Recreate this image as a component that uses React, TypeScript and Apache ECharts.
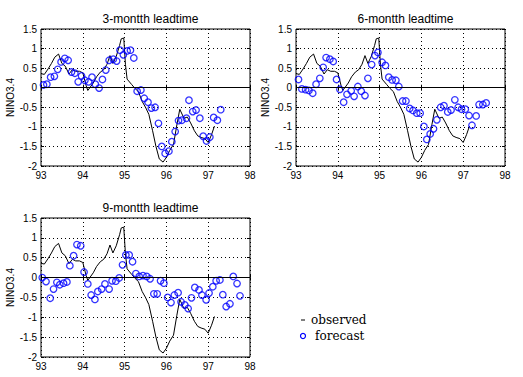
import React, { useEffect, useRef } from "react";
import * as echarts from "echarts";

const titles = ["3-montth leadtime", "6-montth leadtime", "9-montth leadtime"];
const xTicks = [93, 94, 95, 96, 97, 98];
const yLabelName = "NINO3.4";
const legendLabels = ["observed", "forecast"];

const obsT = [93.0, 93.08, 93.17, 93.25, 93.33, 93.42, 93.5, 93.58, 93.67, 93.75, 93.83, 93.92, 94.0, 94.08, 94.12, 94.25, 94.33, 94.42, 94.5, 94.58, 94.65, 94.72, 94.8, 94.88, 94.92, 94.98, 95.02, 95.06, 95.17, 95.25, 95.33, 95.42, 95.5, 95.58, 95.67, 95.75, 95.83, 95.92, 96.0, 96.08, 96.17, 96.25, 96.32, 96.42, 96.5, 96.58, 96.67, 96.75, 96.83, 96.92, 97.0, 97.08, 97.15];
const obsV = [0.36, 0.34, 0.48, 0.62, 0.78, 0.86, 0.62, 0.55, 0.35, 0.46, 0.42, 0.42, 0.38, 0.05, -0.07, 0.12, 0.28, 0.4, 0.46, 0.6, 0.82, 0.62, 0.8, 1.08, 1.25, 1.27, 0.6, 0.22, 0.08, -0.02, -0.1, -0.35, -0.5, -0.68, -1.1, -1.5, -1.82, -1.9, -1.78, -1.6, -1.45, -0.95, -0.55, -0.78, -0.75, -0.9, -1.1, -1.23, -1.27, -1.3, -1.4, -1.2, -0.98];

const f3T = [93.06, 93.14, 93.23, 93.32, 93.4, 93.48, 93.57, 93.65, 93.73, 93.81, 93.89, 93.97, 94.05, 94.14, 94.22, 94.3, 94.39, 94.47, 94.55, 94.63, 94.73, 94.81, 94.89, 94.97, 95.06, 95.14, 95.22, 95.3, 95.39, 95.47, 95.56, 95.64, 95.73, 95.81, 95.89, 95.97, 96.06, 96.13, 96.21, 96.29, 96.37, 96.48, 96.54, 96.63, 96.71, 96.8, 96.88, 96.96, 97.04, 97.13, 97.22, 97.3];
const f3V = [0.07, 0.09, 0.27, 0.29, 0.47, 0.66, 0.75, 0.7, 0.4, 0.37, 0.15, 0.3, 0.19, 0.15, 0.27, 0.09, -0.01, 0.21, 0.45, 0.7, 0.73, 0.68, 0.96, 0.84, 0.94, 0.96, 0.76, -0.09, -0.06, -0.27, -0.37, -0.52, -0.5, -0.91, -1.5, -1.68, -1.62, -1.38, -1.12, -0.84, -0.83, -0.78, -0.32, -0.61, -0.57, -0.78, -1.24, -1.36, -1.26, -0.76, -0.83, -0.56];

const f6T = [93.06, 93.14, 93.23, 93.31, 93.4, 93.48, 93.57, 93.65, 93.72, 93.81, 93.89, 93.97, 94.05, 94.14, 94.22, 94.32, 94.39, 94.48, 94.56, 94.65, 94.72, 94.81, 94.89, 94.96, 95.06, 95.14, 95.22, 95.3, 95.39, 95.46, 95.55, 95.63, 95.72, 95.8, 95.89, 95.97, 96.06, 96.13, 96.21, 96.29, 96.37, 96.46, 96.54, 96.63, 96.71, 96.8, 96.88, 96.96, 97.05, 97.14, 97.21, 97.31, 97.38, 97.47, 97.55];
const f6V = [0.21, -0.03, -0.05, -0.07, -0.14, 0.09, 0.24, 0.52, 0.77, 0.73, 0.67, 0.21, -0.04, -0.37, -0.17, -0.08, -0.22, 0.03, -0.09, -0.2, 0.24, 0.59, 0.82, 0.9, 0.65, 0.57, 0.27, 0.2, 0.19, 0.03, -0.34, -0.34, -0.53, -0.58, -0.65, -0.65, -0.99, -1.32, -1.18, -1.05, -0.82, -0.5, -0.46, -0.62, -0.57, -0.31, -0.5, -0.55, -0.55, -0.71, -0.96, -0.72, -0.43, -0.43, -0.39];

const f9T = [93.03, 93.12, 93.22, 93.3, 93.38, 93.45, 93.54, 93.62, 93.69, 93.78, 93.86, 93.95, 94.03, 94.12, 94.2, 94.29, 94.36, 94.45, 94.53, 94.63, 94.7, 94.79, 94.87, 94.95, 95.03, 95.11, 95.19, 95.27, 95.35, 95.44, 95.53, 95.61, 95.7, 95.78, 95.86, 95.94, 96.03, 96.11, 96.19, 96.28, 96.35, 96.44, 96.52, 96.6, 96.68, 96.78, 96.85, 96.95, 97.02, 97.11, 97.19, 97.28, 97.35, 97.43, 97.52, 97.6, 97.69, 97.76];
const f9V = [0.0, -0.1, -0.52, -0.29, -0.12, -0.18, -0.14, -0.11, 0.3, 0.55, 0.83, 0.8, 0.14, -0.16, -0.44, -0.55, -0.35, -0.29, -0.16, -0.29, -0.08, -0.09, -0.01, 0.32, 0.57, 0.57, 0.4, 0.1, 0.03, 0.05, 0.03, -0.03, -0.41, -0.41, -0.08, -0.14, -0.5, -0.63, -0.44, -0.38, -0.61, -0.69, -0.78, -0.51, -0.25, -0.31, -0.44, -0.56, -0.39, -0.23, -0.08, -0.06, -0.43, -0.73, -0.66, 0.03, -0.15, -0.46];

const pair = (t: number[], v: number[]) => t.map((x, i) => [x, v[i]]);

export default function App() {
  const ref = useRef<HTMLDivElement>(null);
  useEffect(() => {
    if (!ref.current) return;
    const chart = echarts.init(ref.current, null, { renderer: "svg" });
    const grids = [
      { left: 41, top: 29, width: 209, height: 137 },
      { left: 296, top: 29, width: 209, height: 137 },
      { left: 41, top: 218, width: 209, height: 139 },
    ];
    const font = "'Liberation Sans', Arial, sans-serif";
    const xAxis: any[] = [];
    const yAxis: any[] = [];
    grids.forEach((_, i) => {
      xAxis.push({
        type: "value", gridIndex: i, min: xTicks[0], max: xTicks[xTicks.length - 1], interval: 1, position: "bottom",
        axisLine: { show: false },
        axisTick: { show: true, inside: true, length: 3, lineStyle: { color: "#000" } },
        axisLabel: { color: "#000", fontSize: 10, fontFamily: font, margin: 4 },
        splitLine: { show: true, lineStyle: { color: "#000", type: [1, 3], width: 1 } },
      });
      xAxis.push({
        type: "value", gridIndex: i, min: xTicks[0], max: xTicks[xTicks.length - 1], interval: 1, position: "top",
        axisLine: { show: false },
        axisTick: { show: true, inside: true, length: 3, lineStyle: { color: "#000" } },
        axisLabel: { show: false }, splitLine: { show: false },
      });
      yAxis.push({
        type: "value", gridIndex: i, min: -2, max: 1.5, interval: 0.5, position: "left",
        name: yLabelName, nameLocation: "middle", nameGap: 21, nameRotate: 90,
        nameTextStyle: { color: "#000", fontSize: 10, fontFamily: font },
        axisLine: { show: false },
        axisTick: { show: true, inside: true, length: 3, lineStyle: { color: "#000" } },
        axisLabel: { color: "#000", fontSize: 10, fontFamily: font, margin: 4 },
        splitLine: { show: true, lineStyle: { color: "#000", type: [1, 3], width: 1 } },
      });
      yAxis.push({
        type: "value", gridIndex: i, min: -2, max: 1.5, interval: 0.5, position: "right",
        axisLine: { show: false },
        axisTick: { show: true, inside: true, length: 3, lineStyle: { color: "#000" } },
        axisLabel: { show: false }, splitLine: { show: false },
      });
    });
    const fc = [pair(f3T, f3V), pair(f6T, f6V), pair(f9T, f9V)];
    const series: any[] = [];
    grids.forEach((_, i) => {
      series.push({
        type: "line", xAxisIndex: i * 2, yAxisIndex: i * 2, data: pair(obsT, obsV),
        showSymbol: false, lineStyle: { color: "#000", width: 1 }, z: 3,
        markLine: {
          silent: true, symbol: "none", label: { show: false },
          lineStyle: { color: "#000", type: "solid", width: 1.2 },
          data: [{ yAxis: 0 }],
        },
      });
      series.push({
        type: "scatter", xAxisIndex: i * 2, yAxisIndex: i * 2, data: fc[i],
        symbol: "circle", symbolSize: 6.5,
        itemStyle: { color: "rgba(0,0,0,0)", borderColor: "#0000ff", borderWidth: 1.3 }, z: 4,
      });
    });
    chart.setOption({
      animation: false,
      backgroundColor: "#fff",
      grid: grids.map((g) => ({ ...g, show: true, borderColor: "#000", borderWidth: 1, backgroundColor: "transparent" })),
      title: titles.map((t, i) => ({
        text: t, left: grids[i].left + grids[i].width / 2, top: grids[i].top - 21, textAlign: "center",
        textStyle: { color: "#000", fontSize: 12, fontWeight: "normal", fontFamily: font },
      })),
      xAxis, yAxis, series,
      graphic: [
        { type: "line", shape: { x1: 301, y1: 320, x2: 305, y2: 320 }, style: { stroke: "#000", lineWidth: 1 } },
        { type: "text", x: 311, y: 320, style: { text: legendLabels[0], fill: "#000", font: "12px 'DejaVu Serif', serif", verticalAlign: "middle" } },
        { type: "circle", shape: { cx: 303, cy: 336, r: 2.5 }, style: { fill: "none", stroke: "#0000ff", lineWidth: 1.2 } },
        { type: "text", x: 315, y: 336, style: { text: legendLabels[1], fill: "#000", font: "12px 'DejaVu Serif', serif", verticalAlign: "middle" } },
      ],
    });
    return () => chart.dispose();
  }, []);
  return <div ref={ref} style={{ width: 523, height: 377, position: "absolute", left: 0, top: 0 }} />;
}
